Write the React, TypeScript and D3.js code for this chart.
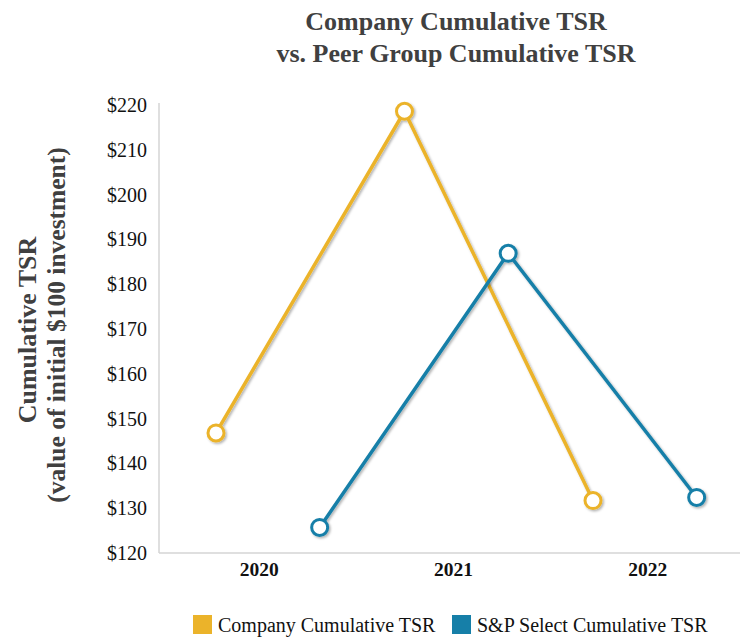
import React from "react";
import * as d3 from "d3";

// chart data
const years = ["2020", "2021", "2022"];
const companyTSR = [146.8, 218.6, 131.7];
const peerTSR = [125.7, 186.9, 132.4];
const yTicks = [120, 130, 140, 150, 160, 170, 180, 190, 200, 210, 220];
const seriesNames = ["Company Cumulative TSR", "S&P Select Cumulative TSR"];
const seriesColors = ["#EBB32A", "#167FA8"];

const width = 742;
const height = 639;
const serif = "'Liberation Serif', 'Times New Roman', serif";

const App = () => {
  const yScale = d3.scaleLinear().domain([120, 220]).range([553, 105]);

  // category labels sit on a band scale
  const xBand = d3.scaleBand().domain(years).range([162, 745]);

  // markers are staggered: company left, peer group right
  const xPos = d3.scaleLinear().domain([0, 2]).range([216, 593]);
  const peerShift = 0.55;

  const series = [
    { name: seriesNames[0], color: seriesColors[0], values: companyTSR, shift: 0 },
    { name: seriesNames[1], color: seriesColors[1], values: peerTSR, shift: peerShift },
  ];

  const axisX0 = 159;
  const axisX1 = 740;

  return (
    <svg width={width} height={height} style={{ position: "absolute", left: 0, top: 0 }}>
      <defs>
        <filter id="shadow" x="-20%" y="-20%" width="140%" height="140%">
          <feDropShadow dx="1.5" dy="1.5" stdDeviation="1" floodColor="#000" floodOpacity="0.3" />
        </filter>
      </defs>
      <rect width={width} height={height} fill="#fff" />

      {/* title */}
      <text x={456} y={30} textAnchor="middle" fontFamily={serif} fontWeight="bold" fontSize={26} fill="#404040">
        Company Cumulative TSR
      </text>
      <text x={456} y={62} textAnchor="middle" fontFamily={serif} fontWeight="bold" fontSize={26} fill="#404040">
        vs. Peer Group Cumulative TSR
      </text>

      {/* y axis title */}
      <text
        transform={`translate(36, 330) rotate(-90)`}
        textAnchor="middle"
        fontFamily={serif}
        fontWeight="bold"
        fontSize={26}
        fill="#404040"
      >
        Cumulative TSR
      </text>
      <text
        transform={`translate(65, 325) rotate(-90)`}
        textAnchor="middle"
        fontFamily={serif}
        fontWeight="bold"
        fontSize={25.5}
        fill="#404040"
      >
        (value of initial $100 investment)
      </text>

      {/* axes */}
      <line x1={axisX0} x2={axisX0} y1={yScale(220) - 2} y2={yScale(120)} stroke="#d4d4d4" strokeWidth={1.5} />
      <line x1={axisX0} x2={axisX1} y1={yScale(120)} y2={yScale(120)} stroke="#d4d4d4" strokeWidth={1.5} />

      {yTicks.map((t) => (
        <text
          key={t}
          x={147}
          y={yScale(t)}
          dy="0.35em"
          textAnchor="end"
          fontFamily={serif}
          fontSize={20}
          fill="#111"
        >
          {"$" + t}
        </text>
      ))}

      {years.map((y) => (
        <text
          key={y}
          x={(xBand(y) as number) + xBand.bandwidth() / 2}
          y={576}
          textAnchor="middle"
          fontFamily={serif}
          fontWeight="bold"
          fontSize={19.5}
          fill="#111"
        >
          {y}
        </text>
      ))}

      {/* series */}
      {series.map((s) => (
        <g key={s.name} filter="url(#shadow)">
          <path
            d={d3
              .line<number>()
              .x((_, i) => xPos(i + s.shift))
              .y((d) => yScale(d))(s.values) as string}
            fill="none"
            stroke={s.color}
            strokeWidth={3.5}
          />
          {s.values.map((v, i) => (
            <circle key={i} cx={xPos(i + s.shift)} cy={yScale(v)} r={8} fill="#fff" stroke={s.color} strokeWidth={3} />
          ))}
        </g>
      ))}

      {/* legend */}
      <rect x={193} y={615} width={19} height={19} fill={seriesColors[0]} />
      <text x={218} y={632} fontFamily={serif} fontSize={20} fill="#111">
        {seriesNames[0]}
      </text>
      <rect x={452} y={615} width={19} height={19} fill={seriesColors[1]} />
      <text x={477} y={632} fontFamily={serif} fontSize={20} fill="#111">
        {seriesNames[1]}
      </text>
    </svg>
  );
};

export default App;
